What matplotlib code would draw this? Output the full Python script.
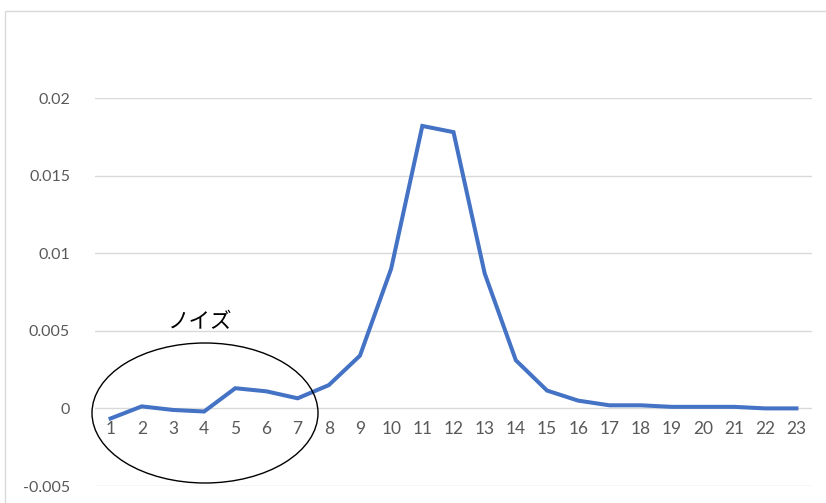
import matplotlib.pyplot as plt
from matplotlib.patches import Ellipse, Rectangle

plt.rcParams['font.family'] = ['Lato', 'Noto Sans CJK JP', 'DejaVu Sans']

# 系列データ
categories = [str(i) for i in range(1, 24)]
values = [-0.00065, 0.00013, -0.0001, -0.0002, 0.0013, 0.0011, 0.00065,
          0.0015, 0.0034, 0.009, 0.0182, 0.0178, 0.0087, 0.0031, 0.00115,
          0.0005, 0.0002, 0.0002, 0.0001, 0.0001, 0.0001, 0.0, 0.0]
y_ticks = [-0.005, 0, 0.005, 0.01, 0.015, 0.02]
y_tick_labels = ['-0.005', '0', '0.005', '0.01', '0.015', '0.02']
noise_label = 'ノイズ'

fig = plt.figure(figsize=(8.26, 5.03), dpi=100)
ax = fig.add_axes([95 / 826, 1 - 486 / 503, (812 - 95) / 826, (486 - 98) / 503])

x = list(range(len(categories)))
ax.plot(x, values, color='#4472C4', linewidth=2.9, solid_joinstyle='miter', zorder=3)

ax.set_xlim(-0.5, len(categories) - 0.5)
ax.set_ylim(-0.005, 0.02)
ax.set_yticks(y_ticks)
ax.set_yticklabels(y_tick_labels)
ax.set_xticks(x)
ax.set_xticklabels(categories)

# 横軸のラベルは0の位置に
ax.spines['bottom'].set_position(('data', 0))
for s in ax.spines.values():
    s.set_visible(False)
ax.tick_params(axis='both', length=0, colors='#595959', labelsize=11.5)
ax.tick_params(axis='x', pad=9, labelsize=12.5)
ax.tick_params(axis='y', pad=18)
ax.grid(axis='y', color='#d9d9d9', linewidth=1.0)
ax.set_axisbelow(True)

# ノイズ部分を囲む楕円
ell = Ellipse((205, 503 - 413), 226, 140, transform=None, fill=False,
              edgecolor='black', linewidth=1.0, zorder=4)
fig.add_artist(ell)
fig.text(200 / 826, 1 - 322 / 503, noise_label, ha='center', va='center',
         fontsize=15.5, color='black', family=['Noto Sans CJK JP', 'DejaVu Sans'])

# グラフ枠
fig.add_artist(Rectangle((5 / 826, -0.1), 1.2, 1 - 11 / 503 + 0.1,
                         transform=fig.transFigure, fill=False,
                         edgecolor='#d9d9d9', linewidth=1.0))

fig.savefig('out.png', dpi=100, facecolor='white')
